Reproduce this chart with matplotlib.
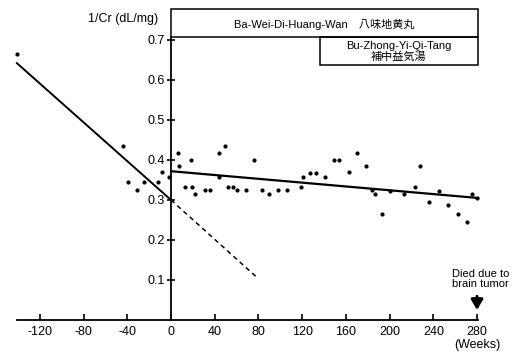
import matplotlib
matplotlib.use("Agg")
import matplotlib.pyplot as plt
from matplotlib.patches import Rectangle

# ---- data ----
weeks = [-140.6, -44, -39, -31, -25, -12, -8, -2,
         6, 7, 13, 18, 19, 22, 31, 36, 44, 44, 49, 52, 57, 60, 69, 76, 83, 90,
         98, 106, 119, 121, 127, 133, 141, 149, 154, 163, 170, 178, 184, 187,
         193, 200, 213, 223, 228, 236, 245, 253, 263, 271, 275, 280]
inv_cr = [0.665, 0.436, 0.344, 0.324, 0.344, 0.344, 0.371, 0.358,
          0.417, 0.385, 0.333, 0.400, 0.333, 0.314, 0.324, 0.324, 0.417, 0.358,
          0.436, 0.333, 0.333, 0.324, 0.324, 0.400, 0.324, 0.314,
          0.324, 0.324, 0.333, 0.358, 0.367, 0.367, 0.358, 0.400, 0.400, 0.369,
          0.417, 0.386, 0.324, 0.314, 0.265, 0.322, 0.314, 0.333, 0.386, 0.296,
          0.322, 0.287, 0.265, 0.246, 0.314, 0.305]

pre_fit_x = [-141, 0]
pre_fit_y = [0.642, 0.300]
extrap_x = [0, 78]
extrap_y = [0.300, 0.108]
post_fit_x = [0, 281]
post_fit_y = [0.372, 0.305]

xticks = [-120, -80, -40, 0, 40, 80, 120, 160, 200, 240, 280]
yticks = [0.1, 0.2, 0.3, 0.4, 0.5, 0.6, 0.7]

drug1 = "Ba-Wei-Di-Huang-Wan　八味地黄丸"
drug2 = "Bu-Zhong-Yi-Qi-Tang\n補中益気湯"

fam = ["Liberation Sans", "Noto Sans CJK JP", "DejaVu Sans"]
plt.rcParams["font.family"] = fam

fig = plt.figure(figsize=(5.12, 3.53), dpi=100)
ax = fig.add_axes([0, 0, 1, 1])
ax.set_xlim(-156.5, 312.0)
ax.set_ylim(-0.0825, 0.8)
ax.patch.set_alpha(0)

for s in ["top", "right"]:
    ax.spines[s].set_visible(False)
ax.spines["left"].set_position(("data", 0))
ax.spines["bottom"].set_position(("data", 0))
ax.spines["left"].set_bounds(0, 0.7075)
ax.spines["bottom"].set_bounds(-141, 281)
for s in ["left", "bottom"]:
    ax.spines[s].set_linewidth(1.3)

ax.set_xticks(xticks)
ax.set_xticklabels([str(t) for t in xticks])
ax.set_yticks(yticks)
ax.set_yticklabels([f"{t:.1f}" for t in yticks])
ax.tick_params(axis="x", direction="in", length=4, width=1.2, pad=4, labelsize=9)
ax.tick_params(axis="y", direction="inout", length=6, width=1.2, pad=1.5, labelsize=9)

# data points
ax.plot(weeks, inv_cr, linestyle="none", marker="o", markersize=2.0, color="black")

# regression lines
ax.plot(pre_fit_x, pre_fit_y, color="black", lw=1.4)
ax.plot(extrap_x, extrap_y, color="black", lw=1.1, linestyle=(0, (3, 2.5)))
ax.plot(post_fit_x, post_fit_y, color="black", lw=1.6)

# treatment boxes
ax.add_patch(Rectangle((0, 0.7075), 281, 0.07, fill=False, lw=1.1, ec="black", clip_on=False))
ax.add_patch(Rectangle((136, 0.6375), 145, 0.07, fill=False, lw=1.1, ec="black", clip_on=False))
ax.text(140, 0.7385, drug1, ha="center", va="center", fontsize=8, family=fam)
ax.text(208.5, 0.6715, drug2, ha="center", va="center", fontsize=8, family=fam,
        linespacing=1.05)

# axis labels
ax.text(-12, 0.7525, "1/Cr (dL/mg)", ha="right", va="center", fontsize=9)
ax.text(280, -0.0625, "(Weeks)", ha="center", va="center", fontsize=9)

# death annotation
ax.text(283, 0.1025, "Died due to\nbrain tumor", ha="center", va="center",
        fontsize=8, linespacing=1.1)
ax.annotate("", xy=(280, 0.018), xytext=(280, 0.066),
            arrowprops=dict(arrowstyle="-|>,head_width=0.35,head_length=0.6",
                            lw=2.2, color="black"))

fig.savefig("out.png", dpi=100)
